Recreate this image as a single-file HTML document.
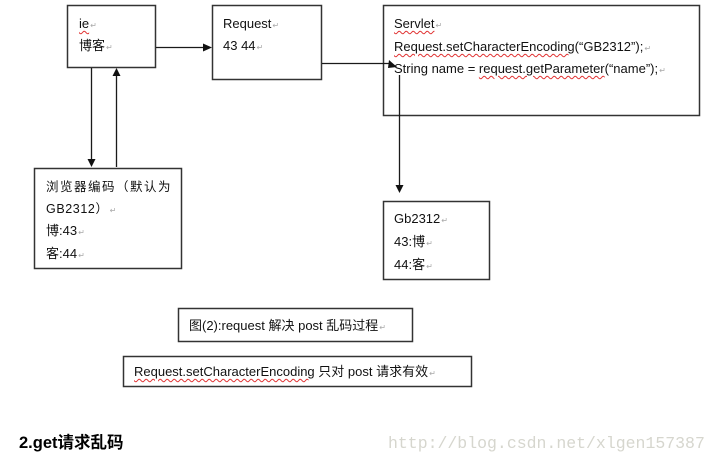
<!DOCTYPE html>
<html>
<head>
<meta charset="utf-8">
<style>
  html, body { margin:0; padding:0; background:#fff; }
  body { width:719px; height:465px; position:relative; overflow:hidden;
         font-family:"Liberation Sans","Noto Sans CJK SC",sans-serif; color:#111; }
  svg { position:absolute; left:0; top:0; }
  .t { position:absolute; height:20px; line-height:20px; font-size:13px; white-space:nowrap; }
  .m { color:#aaa; font-size:8px; margin-left:1px; }
  .w { text-decoration: underline wavy #e03030; text-decoration-thickness:1px; text-underline-offset:2px; }
  .cn { font-family:"Liberation Sans","Noto Sans CJK SC",sans-serif; }
</style>
</head>
<body>
<svg width="719" height="465" viewBox="0 0 719 465">
  <g fill="none" stroke="#333" stroke-width="1.5">
    <rect x="67.5" y="5.5" width="88" height="62"/>
    <rect x="212.5" y="5.5" width="109" height="74"/>
    <rect x="383.5" y="5.5" width="316" height="110"/>
    <rect x="383.5" y="201.5" width="106" height="78"/>
    <rect x="34.5" y="168.5" width="147" height="100"/>
    <rect x="178.5" y="308.5" width="234" height="33"/>
    <rect x="123.5" y="356.5" width="348" height="30"/>
  </g>
  <g stroke="#1a1a1a" stroke-width="1.3" fill="none">
    <line x1="156" y1="47.5" x2="205" y2="47.5"/>
    <line x1="322" y1="63.5" x2="391" y2="63.5"/>
    <line x1="399.5" y1="75" x2="399.5" y2="186"/>
    <line x1="91.5" y1="68" x2="91.5" y2="160"/>
    <line x1="116.5" y1="167" x2="116.5" y2="75"/>
  </g>
  <g fill="#111">
    <polygon points="212,47.5 203,43.5 203,51.5"/>
    <polygon points="397,67 389,60 388,68"/>
    <polygon points="399.5,193 395.5,185 403.5,185"/>
    <polygon points="91.5,167 87.5,159 95.5,159"/>
    <polygon points="116.5,68 112.5,76 120.5,76"/>
  </g>
</svg>

<!-- ie box -->
<div class="t" style="left:79px;top:14px;"><span class="w">ie</span><span class="m">↵</span></div>
<div class="t cn" style="left:79px;top:36px;">博客<span class="m">↵</span></div>

<!-- Request box -->
<div class="t" style="left:223px;top:14px;">Request<span class="m">↵</span></div>
<div class="t" style="left:223px;top:36px;">43 44<span class="m">↵</span></div>

<!-- Servlet box -->
<div class="t" style="left:394px;top:14px;"><span class="w">Servlet</span><span class="m">↵</span></div>
<div class="t" style="left:394px;top:37px;"><span class="w">Request.setCharacterEncoding</span>(“GB2312”);<span class="m">↵</span></div>
<div class="t" style="left:394px;top:59px;">String name = <span class="w">request.getParameter</span>(“name”);<span class="m">↵</span></div>

<!-- Gb2312 box -->
<div class="t" style="left:394px;top:209px;">Gb2312<span class="m">↵</span></div>
<div class="t cn" style="left:394px;top:232px;">43:博<span class="m">↵</span></div>
<div class="t cn" style="left:394px;top:255px;">44:客<span class="m">↵</span></div>

<!-- Browser box -->
<div class="t cn" style="left:46px;top:177px;font-size:12.5px;letter-spacing:1.5px;">浏览器编码（默认为</div>
<div class="t cn" style="left:46px;top:199px;font-size:12.5px;letter-spacing:0.6px;">GB2312）<span class="m">↵</span></div>
<div class="t cn" style="left:46px;top:221px;">博:43<span class="m">↵</span></div>
<div class="t cn" style="left:46px;top:244px;">客:44<span class="m">↵</span></div>

<!-- Captions -->
<div class="t cn" style="left:189px;top:316px;">图(2):request 解决 post 乱码过程<span class="m">↵</span></div>
<div class="t cn" style="left:134px;top:362px;"><span class="w">Request.setCharacterEncoding</span> 只对 post 请求有效<span class="m">↵</span></div>

<!-- Footer -->
<div class="t cn" style="left:19px;top:432px;height:22px;line-height:22px;font-size:16.5px;font-weight:bold;color:#000;">2.get请求乱码</div>
<div class="t" style="left:388px;top:433px;height:22px;line-height:22px;font-family:'Liberation Mono',monospace;font-size:16.5px;color:#d6d6ce;">http://blog.csdn.net/xlgen157387</div>
</body>
</html>
